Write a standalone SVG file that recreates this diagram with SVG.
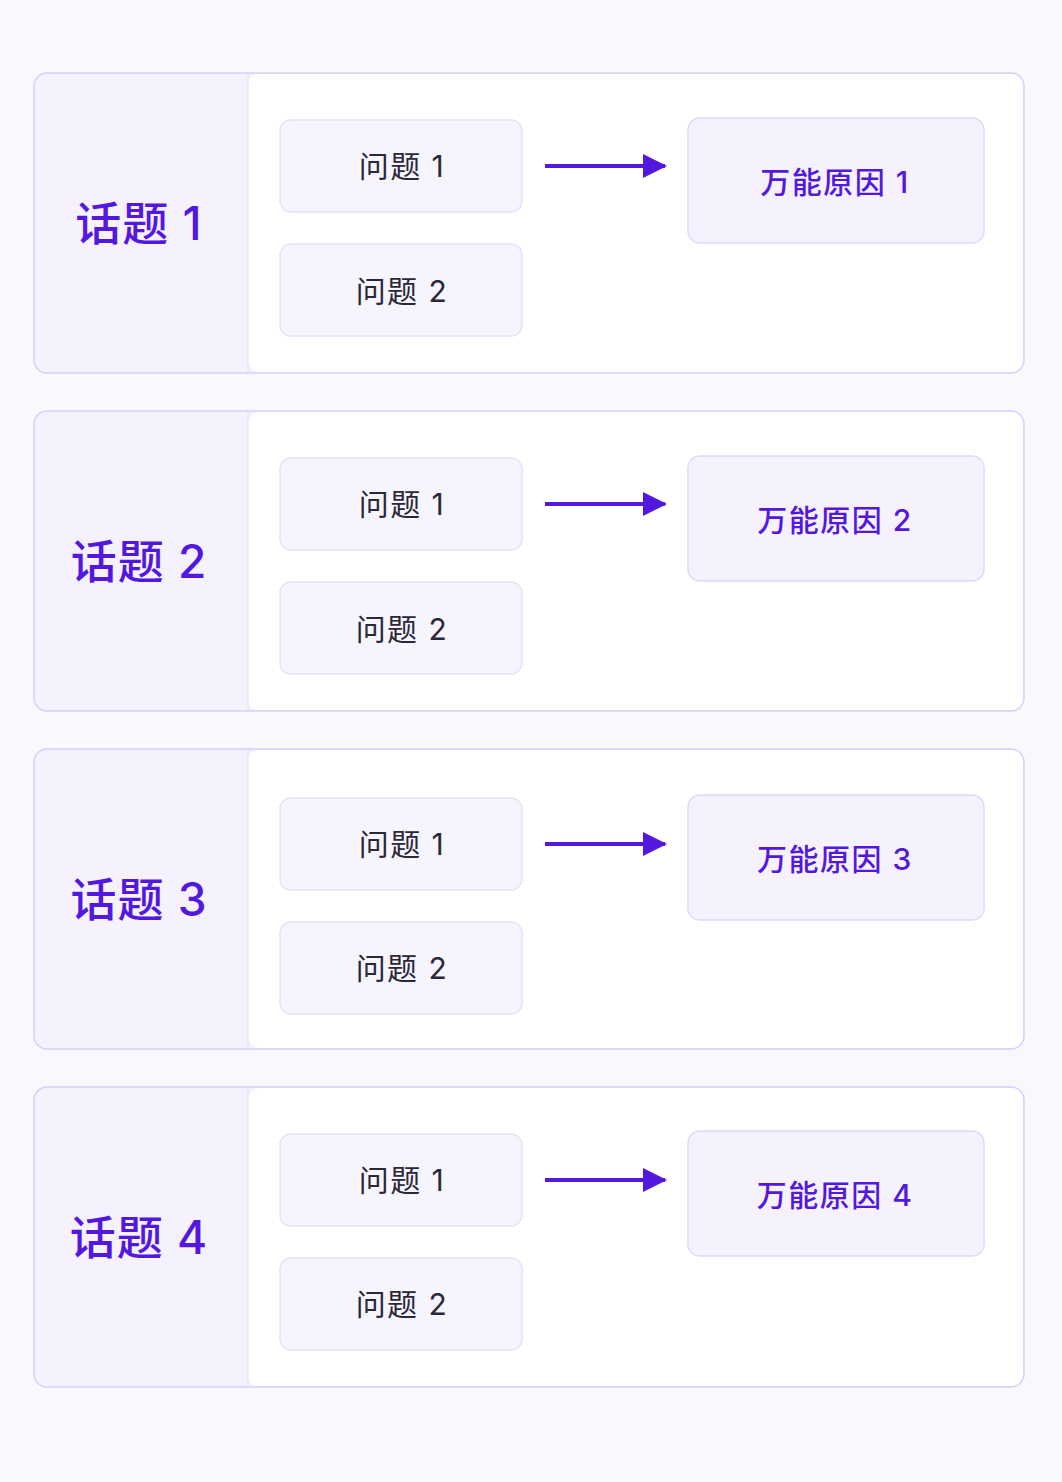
<svg xmlns="http://www.w3.org/2000/svg" width="1062" height="1482" viewBox="0 0 1062 1482">
<defs>
<style>
.card{fill:#f5f2fe;stroke:#d8cef8;stroke-width:1.5}
.panel{fill:#ffffff}
.q{fill:#f6f4fd;stroke:#e7e1fa;stroke-width:1.5}
.c{fill:#f5f2fe;stroke:#e0d8fa;stroke-width:1.5}
.t{font-family:"Inter","Noto Sans CJK SC",sans-serif;font-size:46px;font-weight:500;fill:#5318e0;text-anchor:middle;dominant-baseline:central;letter-spacing:1px}
.qt{font-family:"Inter","Noto Sans CJK SC",sans-serif;font-size:30px;fill:#2a2838;text-anchor:middle;dominant-baseline:central;letter-spacing:1.5px}
.ct{font-family:"Inter","Noto Sans CJK SC",sans-serif;font-size:30px;font-weight:500;fill:#5318e0;text-anchor:middle;dominant-baseline:central;letter-spacing:1.5px}
.ar{stroke:#5318e0;stroke-width:4;fill:none}
</style>
<marker id="ah" markerWidth="6" markerHeight="6" viewBox="0 0 6 6" refX="5.5" refY="3" orient="auto" markerUnits="strokeWidth"><path d="M0,0 L6,3 L0,6 Z" fill="#5318e0"/></marker>
</defs>
<rect width="1062" height="1482" fill="#f9f9fd"/>
<g id="topic1" transform="translate(0,73)">
<rect class="card" x="34" y="0" width="990" height="300" rx="13"/>
<rect class="panel" x="248" y="1" width="775" height="298" rx="12"/>
<line x1="248" y1="1" x2="248" y2="299" stroke="#e4ddfa" stroke-width="1"/>
<text class="t" x="139" y="150">话题 1</text>
</g>
<g id="topic2" transform="translate(0,411)">
<rect class="card" x="34" y="0" width="990" height="300" rx="13"/>
<rect class="panel" x="248" y="1" width="775" height="298" rx="12"/>
<line x1="248" y1="1" x2="248" y2="299" stroke="#e4ddfa" stroke-width="1"/>
<text class="t" x="139" y="150">话题 2</text>
</g>
<g id="topic3" transform="translate(0,749)">
<rect class="card" x="34" y="0" width="990" height="300" rx="13"/>
<rect class="panel" x="248" y="1" width="775" height="298" rx="12"/>
<line x1="248" y1="1" x2="248" y2="299" stroke="#e4ddfa" stroke-width="1"/>
<text class="t" x="139" y="150">话题 3</text>
</g>
<g id="topic4" transform="translate(0,1087)">
<rect class="card" x="34" y="0" width="990" height="300" rx="13"/>
<rect class="panel" x="248" y="1" width="775" height="298" rx="12"/>
<line x1="248" y1="1" x2="248" y2="299" stroke="#e4ddfa" stroke-width="1"/>
<text class="t" x="139" y="150">话题 4</text>
</g>
<g id="t1q1"><rect class="q" x="280" y="120" width="242" height="92" rx="11"/><text class="qt" x="402" y="166">问题 1</text></g>
<g id="t1q2"><rect class="q" x="280" y="244" width="242" height="92" rx="11"/><text class="qt" x="402" y="291">问题 2</text></g>
<g id="t1c"><rect class="c" x="688" y="118" width="296" height="125" rx="12"/><text class="ct" x="835" y="182">万能原因 1</text></g>
<g id="t2q1"><rect class="q" x="280" y="458" width="242" height="92" rx="11"/><text class="qt" x="402" y="504">问题 1</text></g>
<g id="t2q2"><rect class="q" x="280" y="582" width="242" height="92" rx="11"/><text class="qt" x="402" y="629">问题 2</text></g>
<g id="t2c"><rect class="c" x="688" y="456" width="296" height="125" rx="12"/><text class="ct" x="835" y="520">万能原因 2</text></g>
<g id="t3q1"><rect class="q" x="280" y="798" width="242" height="92" rx="11"/><text class="qt" x="402" y="844">问题 1</text></g>
<g id="t3q2"><rect class="q" x="280" y="922" width="242" height="92" rx="11"/><text class="qt" x="402" y="968">问题 2</text></g>
<g id="t3c"><rect class="c" x="688" y="795" width="296" height="125" rx="12"/><text class="ct" x="835" y="859">万能原因 3</text></g>
<g id="t4q1"><rect class="q" x="280" y="1134" width="242" height="92" rx="11"/><text class="qt" x="402" y="1180">问题 1</text></g>
<g id="t4q2"><rect class="q" x="280" y="1258" width="242" height="92" rx="11"/><text class="qt" x="402" y="1304">问题 2</text></g>
<g id="t4c"><rect class="c" x="688" y="1131" width="296" height="125" rx="12"/><text class="ct" x="835" y="1195">万能原因 4</text></g>
<g id="connectors">
<line class="ar" x1="545" y1="166" x2="665" y2="166" marker-end="url(#ah)"/>
<line class="ar" x1="545" y1="504" x2="665" y2="504" marker-end="url(#ah)"/>
<line class="ar" x1="545" y1="844" x2="665" y2="844" marker-end="url(#ah)"/>
<line class="ar" x1="545" y1="1180" x2="665" y2="1180" marker-end="url(#ah)"/>
</g>
</svg>
